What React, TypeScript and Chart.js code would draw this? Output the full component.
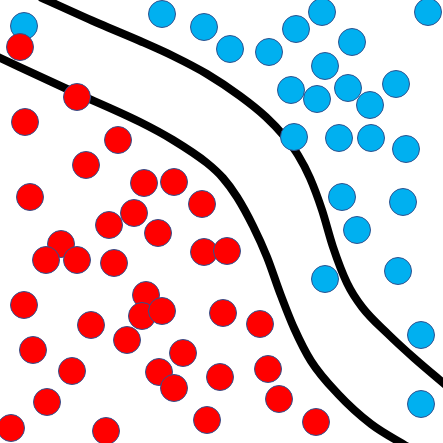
import React, { useEffect, useRef } from "react";
import { Chart, registerables } from "chart.js";

Chart.register(...registerables);

const redX = [20, 77, 25, 118, 86, 30, 144, 174, 202, 134, 109, 158, 61, 46, 77, 114, 204, 227, 24, 91, 146, 142, 162, 127, 223, 260, 33, 72, 183, 159, 174, 220, 268, 47, 279, 11, 106, 207, 316];
const redY = [47, 97, 122, 140, 165, 197, 183, 182, 204, 213, 225, 233, 244, 260, 260, 263, 252, 251, 305, 325, 295, 316, 311, 340, 313, 324, 350, 371, 353, 372, 388, 377, 369, 402, 399, 428, 431, 420, 422];

const blueX = [24, 162, 204, 230, 269, 296, 322, 428, 352, 325, 291, 317, 348, 370, 396, 294, 339, 371, 406, 342, 403, 357, 398, 325, 421, 421];
const blueY = [26, 14, 27, 49, 52, 29, 12, 12, 42, 66, 90, 99, 88, 105, 84, 137, 138, 138, 149, 197, 202, 230, 271, 279, 335, 404];

const upperX = [40, 100, 140, 173, 207, 240, 266, 284, 298, 310, 322, 333, 347, 362, 388, 414, 448];
const upperY = [-3, 24, 41, 56, 74, 96, 117, 136, 155, 178, 210, 247, 283, 307, 334, 358, 387];

const lowerX = [-4, 67, 140, 173, 207, 223, 237, 253, 267, 280, 294, 311, 338, 371, 408];
const lowerY = [56, 89, 122, 140, 163, 178, 197, 226, 257, 293, 328, 361, 394, 424, 447];

const zip = (xs: number[], ys: number[]) => xs.map((x, i) => ({ x, y: ys[i] }));

export default function App() {
  const ref = useRef<HTMLCanvasElement | null>(null);
  useEffect(() => {
    if (!ref.current) return;
    const lineDs = (xs: number[], ys: number[]) => ({
      type: "line" as const,
      data: zip(xs, ys),
      borderColor: "#000000",
      borderWidth: 8,
      pointRadius: 0,
      showLine: true,
      fill: false,
      cubicInterpolationMode: "monotone" as const,
      order: 2,
    });
    const chart = new Chart(ref.current, {
      type: "scatter",
      data: {
        datasets: [
          {
            data: zip(redX, redY),
            backgroundColor: "#FF0000",
            borderColor: "#2F528F",
            borderWidth: 1,
            pointRadius: 13.5,
            order: 0,
          },
          {
            data: zip(blueX, blueY),
            backgroundColor: "#00B0F0",
            borderColor: "#2F528F",
            borderWidth: 1,
            pointRadius: 13.5,
            order: 1,
          },
          lineDs(upperX, upperY) as any,
          lineDs(lowerX, lowerY) as any,
        ],
      },
      options: {
        animation: false,
        responsive: false,
        maintainAspectRatio: false,
        layout: { padding: 0, autoPadding: false },
        plugins: { legend: { display: false }, tooltip: { enabled: false } },
        scales: {
          x: { type: "linear", min: 0, max: 443, display: false },
          y: { type: "linear", min: 0, max: 443, reverse: true, display: false },
        },
      },
    });
    return () => chart.destroy();
  }, []);
  return (
    <div style={{ position: "fixed", left: 0, top: 0, width: 443, height: 443, background: "#fff" }}>
      <canvas ref={ref} width={443} height={443} style={{ width: 443, height: 443 }} />
    </div>
  );
}
